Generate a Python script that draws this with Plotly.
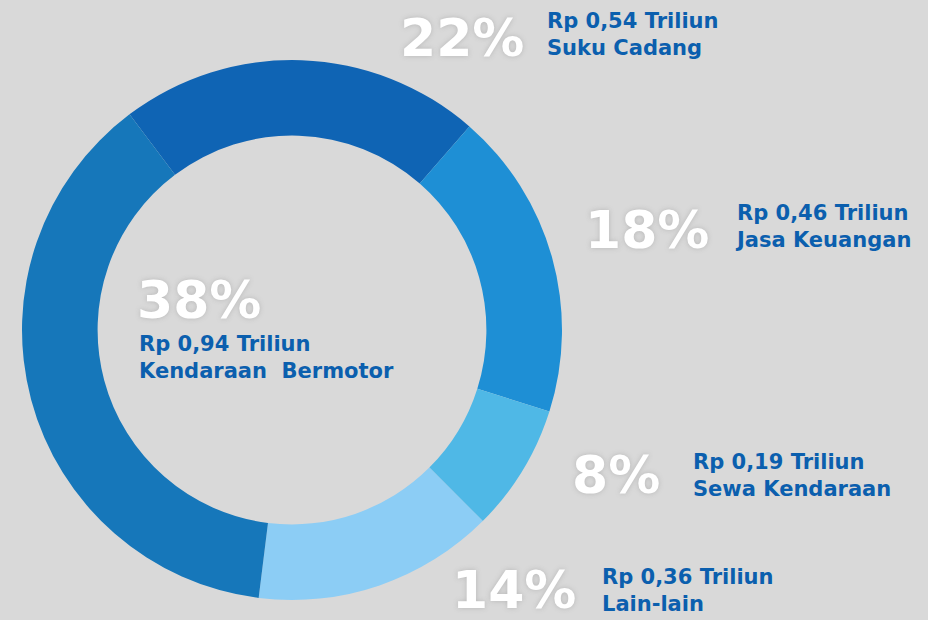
import plotly.graph_objects as go

# Data
categories = ["Suku Cadang", "Jasa Keuangan", "Sewa Kendaraan", "Lain-lain", "Kendaraan  Bermotor"]
values = [0.54, 0.46, 0.19, 0.36, 0.94]  # Rp Triliun
value_labels = ["Rp 0,54 Triliun", "Rp 0,46 Triliun", "Rp 0,19 Triliun", "Rp 0,36 Triliun", "Rp 0,94 Triliun"]
colors = ["#0f64b4", "#1e8fd5", "#4fb8e6", "#8ccdf5", "#1677ba"]

W, H = 928, 620
total = sum(values)
pcts = [round(v / total * 100) for v in values]

fig = go.Figure()
fig.add_trace(go.Pie(
    labels=categories,
    values=values,
    sort=False,
    direction="clockwise",
    rotation=-37,
    hole=0.72,
    marker=dict(colors=colors, line=dict(width=0)),
    textinfo="none",
    showlegend=False,
    domain=dict(x=[22 / W, 562 / W], y=[20 / H, 560 / H]),
))

# label layout (pixel positions of text blocks)
pct_pos = [(398, 38), (583, 230), (570, 475), (450, 590), (135, 300)]
lab_pos = [(545, 35), (733, 226), (691, 475), (600, 590), (137, 357)]

def px(x, y):
    return x / W, 1 - y / H

for i in range(len(categories)):
    x, y = px(*pct_pos[i])
    fig.add_annotation(
        x=x, y=y, xref="paper", yref="paper", xanchor="left", yanchor="middle",
        text=f"{pcts[i]}%", showarrow=False,
        font=dict(family="DejaVu Sans", size=52, color="#ffffff", weight="bold",
                  shadow="0px 0px 5px rgba(120,120,120,0.35)"),
    )
    x, y = px(*lab_pos[i])
    fig.add_annotation(
        x=x, y=y, xref="paper", yref="paper", xanchor="left", yanchor="middle", align="left",
        text=f"{value_labels[i]}<br>{categories[i]}", showarrow=False,
        font=dict(family="DejaVu Sans", size=21, color="#0b5fae", weight="bold"),
    )

fig.update_layout(
    width=W, height=H,
    margin=dict(l=0, r=0, t=0, b=0),
    paper_bgcolor="#d9d9d9",
    plot_bgcolor="#d9d9d9",
)

fig.write_html(
    "out.html",
    config={"displayModeBar": False},
    post_script="document.body.style.margin='0';document.body.style.background='#d9d9d9';",
)
